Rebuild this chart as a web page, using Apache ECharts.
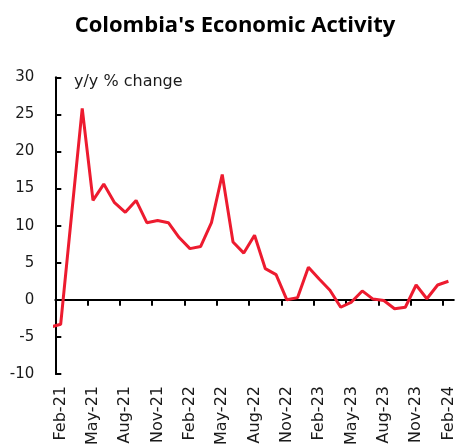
<!DOCTYPE html>
<html>
<head>
<meta charset="utf-8">
<script src="https://cdn.jsdelivr.net/npm/echarts@6/dist/echarts.min.js"></script>
<style>
html,body{margin:0;padding:0;background:#fff;}
#chart{width:470px;height:444px;}
</style>
</head>
<body>
<div id="chart"></div>
<script>
// Months: Jan-21 is only used so the line enters from the left edge (clipped)
const months = ['Jan-21','Feb-21','Mar-21','Apr-21','May-21','Jun-21','Jul-21','Aug-21','Sep-21','Oct-21','Nov-21','Dec-21',
  'Jan-22','Feb-22','Mar-22','Apr-22','May-22','Jun-22','Jul-22','Aug-22','Sep-22','Oct-22','Nov-22','Dec-22',
  'Jan-23','Feb-23','Mar-23','Apr-23','May-23','Jun-23','Jul-23','Aug-23','Sep-23','Oct-23','Nov-23','Dec-23',
  'Jan-24','Feb-24'];
const activity = [-3.7,-3.3,11.3,25.8,13.4,15.6,13.1,11.8,13.4,10.4,10.7,10.4,
  8.4,6.9,7.2,10.4,16.9,7.8,6.3,8.7,4.2,3.4,0.0,0.3,
  4.4,2.8,1.3,-1.0,-0.3,1.2,0.1,-0.1,-1.2,-1.0,2.0,0.15,
  2.0,2.5];
const yTicks = {min:-10, max:30, interval:5};
const title = "Colombia's Economic Activity";
const unitLabel = 'y/y % change';

const titleFont = "'Open Sans', sans-serif";
const font = "'DejaVu Sans', sans-serif";
const every3 = (i) => i % 3 === 1;
const shown = months.length - 1;          // Feb-21 .. Feb-24
const tickBounds = [];
for (let i = 0; i < shown; i += 3) tickBounds.push(i);  // left edge of every third month

const chart = echarts.init(document.getElementById('chart'), null, {renderer:'canvas'});
chart.setOption({
  animation:false,
  backgroundColor:'#fff',
  title:{text:title,left:'center',top:10,textStyle:{fontFamily:titleFont,fontWeight:'bold',fontSize:22,color:'#000'}},
  graphic:[{type:'text',left:74,top:74,style:{text:unitLabel,font:"16px 'DejaVu Sans', sans-serif",fill:'#1a1a1a'}}],
  grid:{left:55.3,right:16.2,top:77.3,bottom:70,containLabel:false,outerBoundsMode:'none'},
  xAxis:[{
    type:'value',min:0,max:shown,
    axisLine:{onZero:true,lineStyle:{color:'#000',width:2}},
    axisTick:{show:true,customValues:tickBounds,length:6,lineStyle:{color:'#000',width:2}},
    axisLabel:{show:false},splitLine:{show:false}
  },{
    type:'category',data:months,min:1,max:shown,boundaryGap:true,position:'bottom',
    axisLine:{show:false,onZero:false},axisTick:{show:false},
    axisLabel:{show:true,interval:every3,rotate:90,margin:12,fontFamily:font,fontSize:16,color:'#1a1a1a'},
    splitLine:{show:false}
  }],
  yAxis:{
    type:'value',min:yTicks.min,max:yTicks.max,interval:yTicks.interval,
    axisLine:{show:true,lineStyle:{color:'#000',width:2}},
    axisTick:{show:true,inside:true,length:6,lineStyle:{color:'#000',width:2}},
    axisLabel:{margin:21,fontFamily:font,fontSize:15,color:'#1a1a1a'},
    splitLine:{show:false}
  },
  series:[{
    type:'line',data:activity,xAxisIndex:1,yAxisIndex:0,symbol:'none',clip:true,
    lineStyle:{color:'#ED1B2F',width:3}
  }]
});
</script>
</body>
</html>
